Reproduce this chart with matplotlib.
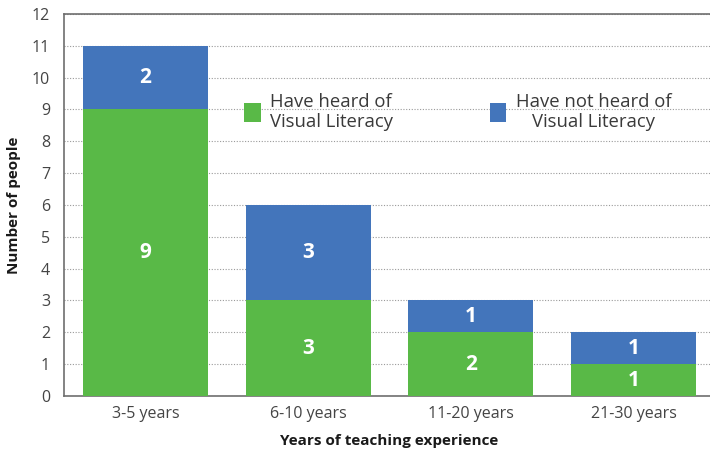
import numpy as np
import matplotlib.pyplot as plt
from matplotlib.patches import Patch

plt.rcParams["font.family"] = ["Open Sans", "DejaVu Sans"]

categories = ["3-5 years", "6-10 years", "11-20 years", "21-30 years"]
heard = [9, 3, 2, 1]
not_heard = [2, 3, 1, 1]
series_names = ["Have heard of\nVisual Literacy", "Have not heard of\nVisual Literacy"]

GREEN = "#59b947"
BLUE = "#4375bb"
TEXT = "#3a3a3a"

fig = plt.figure(figsize=(7.1, 4.51), dpi=100)
ax = fig.add_axes([0.0901, 0.122, 0.917, 0.847])

x = np.arange(len(categories))
width = 0.768
b1 = ax.bar(x, heard, width, color=GREEN, zorder=3)
b2 = ax.bar(x, not_heard, width, bottom=heard, color=BLUE, zorder=3)

# value labels in the middle of each segment
for rects, vals, base in [(b1, heard, [0] * len(heard)), (b2, not_heard, heard)]:
    for r, v, b in zip(rects, vals, base):
        ax.text(r.get_x() + r.get_width() / 2, b + v / 2, str(v),
                ha="center", va="center", color="white",
                fontsize=15, fontweight="bold", zorder=4)

ax.set_xlim(-0.5, len(categories) - 0.5)
ax.set_ylim(0, 12)
ax.set_yticks(range(0, 13))
ax.set_xticks(x)
ax.set_xticklabels(categories)
ax.tick_params(axis="both", length=0, labelsize=11.5, colors="#444444")
ax.tick_params(axis="x", pad=7)
ax.tick_params(axis="y", pad=10)

ax.yaxis.grid(True, linestyle=(0, (1, 1.5)), color="#9a9a9a", linewidth=0.8, zorder=0)
for side in ["left", "bottom", "top", "right"]:
    ax.spines[side].set_color("#6e6e6e")
    ax.spines[side].set_linewidth(1.2)

ax.set_xlabel("Years of teaching experience", fontsize=11, fontweight="bold",
              color="#1a1a1a", labelpad=9)
ax.set_ylabel("Number of people", fontsize=11, fontweight="bold",
              color="#1a1a1a", labelpad=8)

handles = [Patch(facecolor=GREEN), Patch(facecolor=BLUE)]
leg = ax.legend(handles, series_names, ncol=2, frameon=False, fontsize=13.3,
                loc="center left", bbox_to_anchor=(0.251, 0.744),
                handlelength=0.9, handleheight=1.2, handletextpad=0.5,
                columnspacing=5.25, labelspacing=0.2)
for t in leg.get_texts():
    t.set_color(TEXT)
    t.set_linespacing(1.12)
leg.get_texts()[1].set_multialignment("center")

fig.savefig("out.png", dpi=100)
